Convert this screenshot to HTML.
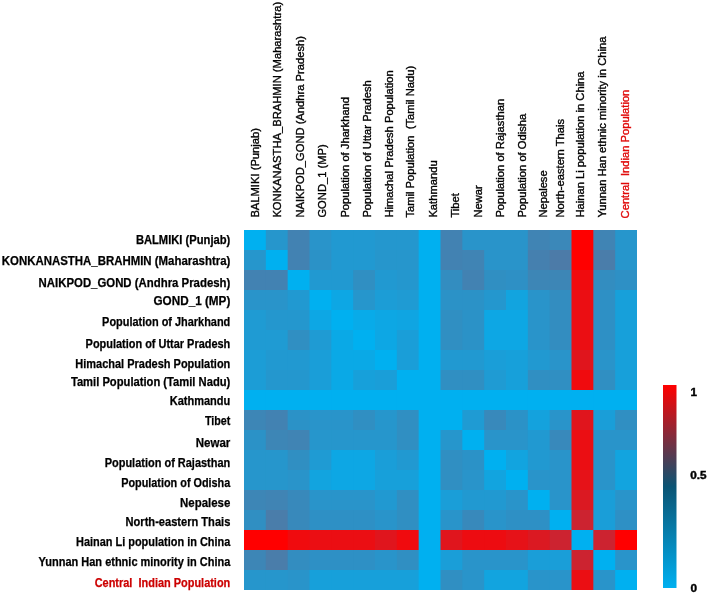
<!DOCTYPE html>
<html><head><meta charset="utf-8"><style>
html,body{margin:0;padding:0;background:#fff;}
body{width:708px;height:593px;overflow:hidden;position:relative;}
svg{position:absolute;left:0;top:0;filter:blur(0.3px);}
.rl{font-family:"Liberation Sans",sans-serif;font-weight:bold;font-size:12px;stroke-width:0.25px;}
.cl{font-family:"Liberation Sans",sans-serif;font-size:11.2px;stroke-width:0.35px;}
.cb{font-family:"Liberation Sans",sans-serif;font-weight:bold;font-size:10.2px;fill:#000;stroke:#000;stroke-width:0.4px;}
</style></head><body>
<svg width="708" height="593" viewBox="0 0 708 593">
<defs><linearGradient id="g" x1="0" y1="0" x2="0" y2="1">
<stop offset="0" stop-color="#FF0000"/><stop offset="0.5" stop-color="#0B5474"/><stop offset="1" stop-color="#00B0F0"/>
</linearGradient></defs>
<rect x="244.00" y="230.00" width="22.83" height="21.00" fill="rgb(0,176,240)"/><rect x="265.83" y="230.00" width="22.83" height="21.00" fill="rgb(38,150,204)"/><rect x="287.67" y="230.00" width="22.83" height="21.00" fill="rgb(66,130,178)"/><rect x="309.50" y="230.00" width="22.83" height="21.00" fill="rgb(41,148,202)"/><rect x="331.33" y="230.00" width="22.83" height="21.00" fill="rgb(33,153,209)"/><rect x="353.17" y="230.00" width="22.83" height="21.00" fill="rgb(33,153,209)"/><rect x="375.00" y="230.00" width="22.83" height="21.00" fill="rgb(36,151,206)"/><rect x="396.83" y="230.00" width="22.83" height="21.00" fill="rgb(36,151,206)"/><rect x="418.67" y="230.00" width="22.83" height="21.00" fill="rgb(0,176,240)"/><rect x="440.50" y="230.00" width="22.83" height="21.00" fill="rgb(66,130,178)"/><rect x="462.33" y="230.00" width="22.83" height="21.00" fill="rgb(41,148,202)"/><rect x="484.17" y="230.00" width="22.83" height="21.00" fill="rgb(41,148,202)"/><rect x="506.00" y="230.00" width="22.83" height="21.00" fill="rgb(41,148,202)"/><rect x="527.83" y="230.00" width="22.83" height="21.00" fill="rgb(64,132,180)"/><rect x="549.67" y="230.00" width="22.83" height="21.00" fill="rgb(59,136,185)"/><rect x="571.50" y="230.00" width="22.83" height="21.00" fill="rgb(255,0,0)"/><rect x="593.33" y="230.00" width="22.83" height="21.00" fill="rgb(64,132,180)"/><rect x="615.17" y="230.00" width="21.83" height="21.00" fill="rgb(38,150,204)"/><rect x="244.00" y="250.00" width="22.83" height="21.00" fill="rgb(38,150,204)"/><rect x="265.83" y="250.00" width="22.83" height="21.00" fill="rgb(0,176,240)"/><rect x="287.67" y="250.00" width="22.83" height="21.00" fill="rgb(66,130,178)"/><rect x="309.50" y="250.00" width="22.83" height="21.00" fill="rgb(43,146,199)"/><rect x="331.33" y="250.00" width="22.83" height="21.00" fill="rgb(33,153,209)"/><rect x="353.17" y="250.00" width="22.83" height="21.00" fill="rgb(33,153,209)"/><rect x="375.00" y="250.00" width="22.83" height="21.00" fill="rgb(38,150,204)"/><rect x="396.83" y="250.00" width="22.83" height="21.00" fill="rgb(38,150,204)"/><rect x="418.67" y="250.00" width="22.83" height="21.00" fill="rgb(0,176,240)"/><rect x="440.50" y="250.00" width="22.83" height="21.00" fill="rgb(66,130,178)"/><rect x="462.33" y="250.00" width="22.83" height="21.00" fill="rgb(64,132,180)"/><rect x="484.17" y="250.00" width="22.83" height="21.00" fill="rgb(41,148,202)"/><rect x="506.00" y="250.00" width="22.83" height="21.00" fill="rgb(41,148,202)"/><rect x="527.83" y="250.00" width="22.83" height="21.00" fill="rgb(69,128,175)"/><rect x="549.67" y="250.00" width="22.83" height="21.00" fill="rgb(76,123,168)"/><rect x="571.50" y="250.00" width="22.83" height="21.00" fill="rgb(255,0,0)"/><rect x="593.33" y="250.00" width="22.83" height="21.00" fill="rgb(74,125,170)"/><rect x="615.17" y="250.00" width="21.83" height="21.00" fill="rgb(38,150,204)"/><rect x="244.00" y="270.00" width="22.83" height="21.00" fill="rgb(66,130,178)"/><rect x="265.83" y="270.00" width="22.83" height="21.00" fill="rgb(66,130,178)"/><rect x="287.67" y="270.00" width="22.83" height="21.00" fill="rgb(0,176,240)"/><rect x="309.50" y="270.00" width="22.83" height="21.00" fill="rgb(33,153,209)"/><rect x="331.33" y="270.00" width="22.83" height="21.00" fill="rgb(33,153,209)"/><rect x="353.17" y="270.00" width="22.83" height="21.00" fill="rgb(48,143,194)"/><rect x="375.00" y="270.00" width="22.83" height="21.00" fill="rgb(33,153,209)"/><rect x="396.83" y="270.00" width="22.83" height="21.00" fill="rgb(36,151,206)"/><rect x="418.67" y="270.00" width="22.83" height="21.00" fill="rgb(0,176,240)"/><rect x="440.50" y="270.00" width="22.83" height="21.00" fill="rgb(51,141,192)"/><rect x="462.33" y="270.00" width="22.83" height="21.00" fill="rgb(66,130,178)"/><rect x="484.17" y="270.00" width="22.83" height="21.00" fill="rgb(48,143,194)"/><rect x="506.00" y="270.00" width="22.83" height="21.00" fill="rgb(46,144,197)"/><rect x="527.83" y="270.00" width="22.83" height="21.00" fill="rgb(61,134,182)"/><rect x="549.67" y="270.00" width="22.83" height="21.00" fill="rgb(61,134,182)"/><rect x="571.50" y="270.00" width="22.83" height="21.00" fill="rgb(240,11,14)"/><rect x="593.33" y="270.00" width="22.83" height="21.00" fill="rgb(51,141,192)"/><rect x="615.17" y="270.00" width="21.83" height="21.00" fill="rgb(46,144,197)"/><rect x="244.00" y="290.00" width="22.83" height="21.00" fill="rgb(41,148,202)"/><rect x="265.83" y="290.00" width="22.83" height="21.00" fill="rgb(41,148,202)"/><rect x="287.67" y="290.00" width="22.83" height="21.00" fill="rgb(33,153,209)"/><rect x="309.50" y="290.00" width="22.83" height="21.00" fill="rgb(0,176,240)"/><rect x="331.33" y="290.00" width="22.83" height="21.00" fill="rgb(13,167,228)"/><rect x="353.17" y="290.00" width="22.83" height="21.00" fill="rgb(38,150,204)"/><rect x="375.00" y="290.00" width="22.83" height="21.00" fill="rgb(28,157,214)"/><rect x="396.83" y="290.00" width="22.83" height="21.00" fill="rgb(31,155,211)"/><rect x="418.67" y="290.00" width="22.83" height="21.00" fill="rgb(0,176,240)"/><rect x="440.50" y="290.00" width="22.83" height="21.00" fill="rgb(43,146,199)"/><rect x="462.33" y="290.00" width="22.83" height="21.00" fill="rgb(43,146,199)"/><rect x="484.17" y="290.00" width="22.83" height="21.00" fill="rgb(36,151,206)"/><rect x="506.00" y="290.00" width="22.83" height="21.00" fill="rgb(18,164,223)"/><rect x="527.83" y="290.00" width="22.83" height="21.00" fill="rgb(41,148,202)"/><rect x="549.67" y="290.00" width="22.83" height="21.00" fill="rgb(51,141,192)"/><rect x="571.50" y="290.00" width="22.83" height="21.00" fill="rgb(235,14,19)"/><rect x="593.33" y="290.00" width="22.83" height="21.00" fill="rgb(46,144,197)"/><rect x="615.17" y="290.00" width="21.83" height="21.00" fill="rgb(23,160,218)"/><rect x="244.00" y="310.00" width="22.83" height="21.00" fill="rgb(31,155,211)"/><rect x="265.83" y="310.00" width="22.83" height="21.00" fill="rgb(36,151,206)"/><rect x="287.67" y="310.00" width="22.83" height="21.00" fill="rgb(36,151,206)"/><rect x="309.50" y="310.00" width="22.83" height="21.00" fill="rgb(13,167,228)"/><rect x="331.33" y="310.00" width="22.83" height="21.00" fill="rgb(0,176,240)"/><rect x="353.17" y="310.00" width="22.83" height="21.00" fill="rgb(8,171,233)"/><rect x="375.00" y="310.00" width="22.83" height="21.00" fill="rgb(13,167,228)"/><rect x="396.83" y="310.00" width="22.83" height="21.00" fill="rgb(15,165,226)"/><rect x="418.67" y="310.00" width="22.83" height="21.00" fill="rgb(0,176,240)"/><rect x="440.50" y="310.00" width="22.83" height="21.00" fill="rgb(48,143,194)"/><rect x="462.33" y="310.00" width="22.83" height="21.00" fill="rgb(43,146,199)"/><rect x="484.17" y="310.00" width="22.83" height="21.00" fill="rgb(13,167,228)"/><rect x="506.00" y="310.00" width="22.83" height="21.00" fill="rgb(13,167,228)"/><rect x="527.83" y="310.00" width="22.83" height="21.00" fill="rgb(41,148,202)"/><rect x="549.67" y="310.00" width="22.83" height="21.00" fill="rgb(51,141,192)"/><rect x="571.50" y="310.00" width="22.83" height="21.00" fill="rgb(235,14,19)"/><rect x="593.33" y="310.00" width="22.83" height="21.00" fill="rgb(46,144,197)"/><rect x="615.17" y="310.00" width="21.83" height="21.00" fill="rgb(23,160,218)"/><rect x="244.00" y="330.00" width="22.83" height="21.00" fill="rgb(31,155,211)"/><rect x="265.83" y="330.00" width="22.83" height="21.00" fill="rgb(31,155,211)"/><rect x="287.67" y="330.00" width="22.83" height="21.00" fill="rgb(48,143,194)"/><rect x="309.50" y="330.00" width="22.83" height="21.00" fill="rgb(31,155,211)"/><rect x="331.33" y="330.00" width="22.83" height="21.00" fill="rgb(10,169,230)"/><rect x="353.17" y="330.00" width="22.83" height="21.00" fill="rgb(0,176,240)"/><rect x="375.00" y="330.00" width="22.83" height="21.00" fill="rgb(13,167,228)"/><rect x="396.83" y="330.00" width="22.83" height="21.00" fill="rgb(26,158,216)"/><rect x="418.67" y="330.00" width="22.83" height="21.00" fill="rgb(0,176,240)"/><rect x="440.50" y="330.00" width="22.83" height="21.00" fill="rgb(48,143,194)"/><rect x="462.33" y="330.00" width="22.83" height="21.00" fill="rgb(43,146,199)"/><rect x="484.17" y="330.00" width="22.83" height="21.00" fill="rgb(13,167,228)"/><rect x="506.00" y="330.00" width="22.83" height="21.00" fill="rgb(13,167,228)"/><rect x="527.83" y="330.00" width="22.83" height="21.00" fill="rgb(41,148,202)"/><rect x="549.67" y="330.00" width="22.83" height="21.00" fill="rgb(51,141,192)"/><rect x="571.50" y="330.00" width="22.83" height="21.00" fill="rgb(235,14,19)"/><rect x="593.33" y="330.00" width="22.83" height="21.00" fill="rgb(46,144,197)"/><rect x="615.17" y="330.00" width="21.83" height="21.00" fill="rgb(23,160,218)"/><rect x="244.00" y="350.00" width="22.83" height="21.00" fill="rgb(28,157,214)"/><rect x="265.83" y="350.00" width="22.83" height="21.00" fill="rgb(33,153,209)"/><rect x="287.67" y="350.00" width="22.83" height="21.00" fill="rgb(33,153,209)"/><rect x="309.50" y="350.00" width="22.83" height="21.00" fill="rgb(26,158,216)"/><rect x="331.33" y="350.00" width="22.83" height="21.00" fill="rgb(10,169,230)"/><rect x="353.17" y="350.00" width="22.83" height="21.00" fill="rgb(10,169,230)"/><rect x="375.00" y="350.00" width="22.83" height="21.00" fill="rgb(0,176,240)"/><rect x="396.83" y="350.00" width="22.83" height="21.00" fill="rgb(26,158,216)"/><rect x="418.67" y="350.00" width="22.83" height="21.00" fill="rgb(0,176,240)"/><rect x="440.50" y="350.00" width="22.83" height="21.00" fill="rgb(33,153,209)"/><rect x="462.33" y="350.00" width="22.83" height="21.00" fill="rgb(33,153,209)"/><rect x="484.17" y="350.00" width="22.83" height="21.00" fill="rgb(26,158,216)"/><rect x="506.00" y="350.00" width="22.83" height="21.00" fill="rgb(23,160,218)"/><rect x="527.83" y="350.00" width="22.83" height="21.00" fill="rgb(33,153,209)"/><rect x="549.67" y="350.00" width="22.83" height="21.00" fill="rgb(41,148,202)"/><rect x="571.50" y="350.00" width="22.83" height="21.00" fill="rgb(224,21,29)"/><rect x="593.33" y="350.00" width="22.83" height="21.00" fill="rgb(41,148,202)"/><rect x="615.17" y="350.00" width="21.83" height="21.00" fill="rgb(23,160,218)"/><rect x="244.00" y="370.00" width="22.83" height="21.00" fill="rgb(28,157,214)"/><rect x="265.83" y="370.00" width="22.83" height="21.00" fill="rgb(36,151,206)"/><rect x="287.67" y="370.00" width="22.83" height="21.00" fill="rgb(36,151,206)"/><rect x="309.50" y="370.00" width="22.83" height="21.00" fill="rgb(26,158,216)"/><rect x="331.33" y="370.00" width="22.83" height="21.00" fill="rgb(10,169,230)"/><rect x="353.17" y="370.00" width="22.83" height="21.00" fill="rgb(23,160,218)"/><rect x="375.00" y="370.00" width="22.83" height="21.00" fill="rgb(26,158,216)"/><rect x="396.83" y="370.00" width="22.83" height="21.00" fill="rgb(0,176,240)"/><rect x="418.67" y="370.00" width="22.83" height="21.00" fill="rgb(0,176,240)"/><rect x="440.50" y="370.00" width="22.83" height="21.00" fill="rgb(48,143,194)"/><rect x="462.33" y="370.00" width="22.83" height="21.00" fill="rgb(48,143,194)"/><rect x="484.17" y="370.00" width="22.83" height="21.00" fill="rgb(31,155,211)"/><rect x="506.00" y="370.00" width="22.83" height="21.00" fill="rgb(23,160,218)"/><rect x="527.83" y="370.00" width="22.83" height="21.00" fill="rgb(48,143,194)"/><rect x="549.67" y="370.00" width="22.83" height="21.00" fill="rgb(48,143,194)"/><rect x="571.50" y="370.00" width="22.83" height="21.00" fill="rgb(240,11,14)"/><rect x="593.33" y="370.00" width="22.83" height="21.00" fill="rgb(48,143,194)"/><rect x="615.17" y="370.00" width="21.83" height="21.00" fill="rgb(23,160,218)"/><rect x="244.00" y="390.00" width="22.83" height="21.00" fill="rgb(0,176,240)"/><rect x="265.83" y="390.00" width="22.83" height="21.00" fill="rgb(0,176,240)"/><rect x="287.67" y="390.00" width="22.83" height="21.00" fill="rgb(0,176,240)"/><rect x="309.50" y="390.00" width="22.83" height="21.00" fill="rgb(0,176,240)"/><rect x="331.33" y="390.00" width="22.83" height="21.00" fill="rgb(0,176,240)"/><rect x="353.17" y="390.00" width="22.83" height="21.00" fill="rgb(0,176,240)"/><rect x="375.00" y="390.00" width="22.83" height="21.00" fill="rgb(0,176,240)"/><rect x="396.83" y="390.00" width="22.83" height="21.00" fill="rgb(0,176,240)"/><rect x="418.67" y="390.00" width="22.83" height="21.00" fill="rgb(0,176,240)"/><rect x="440.50" y="390.00" width="22.83" height="21.00" fill="rgb(0,176,240)"/><rect x="462.33" y="390.00" width="22.83" height="21.00" fill="rgb(0,176,240)"/><rect x="484.17" y="390.00" width="22.83" height="21.00" fill="rgb(0,176,240)"/><rect x="506.00" y="390.00" width="22.83" height="21.00" fill="rgb(0,176,240)"/><rect x="527.83" y="390.00" width="22.83" height="21.00" fill="rgb(0,176,240)"/><rect x="549.67" y="390.00" width="22.83" height="21.00" fill="rgb(0,176,240)"/><rect x="571.50" y="390.00" width="22.83" height="21.00" fill="rgb(0,176,240)"/><rect x="593.33" y="390.00" width="22.83" height="21.00" fill="rgb(0,176,240)"/><rect x="615.17" y="390.00" width="21.83" height="21.00" fill="rgb(0,176,240)"/><rect x="244.00" y="410.00" width="22.83" height="21.00" fill="rgb(61,134,182)"/><rect x="265.83" y="410.00" width="22.83" height="21.00" fill="rgb(66,130,178)"/><rect x="287.67" y="410.00" width="22.83" height="21.00" fill="rgb(43,146,199)"/><rect x="309.50" y="410.00" width="22.83" height="21.00" fill="rgb(41,148,202)"/><rect x="331.33" y="410.00" width="22.83" height="21.00" fill="rgb(41,148,202)"/><rect x="353.17" y="410.00" width="22.83" height="21.00" fill="rgb(48,143,194)"/><rect x="375.00" y="410.00" width="22.83" height="21.00" fill="rgb(38,150,204)"/><rect x="396.83" y="410.00" width="22.83" height="21.00" fill="rgb(48,143,194)"/><rect x="418.67" y="410.00" width="22.83" height="21.00" fill="rgb(0,176,240)"/><rect x="440.50" y="410.00" width="22.83" height="21.00" fill="rgb(0,176,240)"/><rect x="462.33" y="410.00" width="22.83" height="21.00" fill="rgb(31,155,211)"/><rect x="484.17" y="410.00" width="22.83" height="21.00" fill="rgb(56,137,187)"/><rect x="506.00" y="410.00" width="22.83" height="21.00" fill="rgb(43,146,199)"/><rect x="527.83" y="410.00" width="22.83" height="21.00" fill="rgb(20,162,221)"/><rect x="549.67" y="410.00" width="22.83" height="21.00" fill="rgb(41,148,202)"/><rect x="571.50" y="410.00" width="22.83" height="21.00" fill="rgb(224,21,29)"/><rect x="593.33" y="410.00" width="22.83" height="21.00" fill="rgb(26,158,216)"/><rect x="615.17" y="410.00" width="21.83" height="21.00" fill="rgb(48,143,194)"/><rect x="244.00" y="430.00" width="22.83" height="21.00" fill="rgb(43,146,199)"/><rect x="265.83" y="430.00" width="22.83" height="21.00" fill="rgb(61,134,182)"/><rect x="287.67" y="430.00" width="22.83" height="21.00" fill="rgb(64,132,180)"/><rect x="309.50" y="430.00" width="22.83" height="21.00" fill="rgb(38,150,204)"/><rect x="331.33" y="430.00" width="22.83" height="21.00" fill="rgb(38,150,204)"/><rect x="353.17" y="430.00" width="22.83" height="21.00" fill="rgb(38,150,204)"/><rect x="375.00" y="430.00" width="22.83" height="21.00" fill="rgb(38,150,204)"/><rect x="396.83" y="430.00" width="22.83" height="21.00" fill="rgb(48,143,194)"/><rect x="418.67" y="430.00" width="22.83" height="21.00" fill="rgb(0,176,240)"/><rect x="440.50" y="430.00" width="22.83" height="21.00" fill="rgb(38,150,204)"/><rect x="462.33" y="430.00" width="22.83" height="21.00" fill="rgb(0,176,240)"/><rect x="484.17" y="430.00" width="22.83" height="21.00" fill="rgb(41,148,202)"/><rect x="506.00" y="430.00" width="22.83" height="21.00" fill="rgb(41,148,202)"/><rect x="527.83" y="430.00" width="22.83" height="21.00" fill="rgb(33,153,209)"/><rect x="549.67" y="430.00" width="22.83" height="21.00" fill="rgb(56,137,187)"/><rect x="571.50" y="430.00" width="22.83" height="21.00" fill="rgb(235,14,19)"/><rect x="593.33" y="430.00" width="22.83" height="21.00" fill="rgb(41,148,202)"/><rect x="615.17" y="430.00" width="21.83" height="21.00" fill="rgb(41,148,202)"/><rect x="244.00" y="450.00" width="22.83" height="21.00" fill="rgb(38,150,204)"/><rect x="265.83" y="450.00" width="22.83" height="21.00" fill="rgb(38,150,204)"/><rect x="287.67" y="450.00" width="22.83" height="21.00" fill="rgb(48,143,194)"/><rect x="309.50" y="450.00" width="22.83" height="21.00" fill="rgb(31,155,211)"/><rect x="331.33" y="450.00" width="22.83" height="21.00" fill="rgb(13,167,228)"/><rect x="353.17" y="450.00" width="22.83" height="21.00" fill="rgb(13,167,228)"/><rect x="375.00" y="450.00" width="22.83" height="21.00" fill="rgb(26,158,216)"/><rect x="396.83" y="450.00" width="22.83" height="21.00" fill="rgb(33,153,209)"/><rect x="418.67" y="450.00" width="22.83" height="21.00" fill="rgb(0,176,240)"/><rect x="440.50" y="450.00" width="22.83" height="21.00" fill="rgb(48,143,194)"/><rect x="462.33" y="450.00" width="22.83" height="21.00" fill="rgb(43,146,199)"/><rect x="484.17" y="450.00" width="22.83" height="21.00" fill="rgb(0,176,240)"/><rect x="506.00" y="450.00" width="22.83" height="21.00" fill="rgb(18,164,223)"/><rect x="527.83" y="450.00" width="22.83" height="21.00" fill="rgb(33,153,209)"/><rect x="549.67" y="450.00" width="22.83" height="21.00" fill="rgb(41,148,202)"/><rect x="571.50" y="450.00" width="22.83" height="21.00" fill="rgb(235,14,19)"/><rect x="593.33" y="450.00" width="22.83" height="21.00" fill="rgb(41,148,202)"/><rect x="615.17" y="450.00" width="21.83" height="21.00" fill="rgb(18,164,223)"/><rect x="244.00" y="470.00" width="22.83" height="21.00" fill="rgb(38,150,204)"/><rect x="265.83" y="470.00" width="22.83" height="21.00" fill="rgb(38,150,204)"/><rect x="287.67" y="470.00" width="22.83" height="21.00" fill="rgb(41,148,202)"/><rect x="309.50" y="470.00" width="22.83" height="21.00" fill="rgb(18,164,223)"/><rect x="331.33" y="470.00" width="22.83" height="21.00" fill="rgb(13,167,228)"/><rect x="353.17" y="470.00" width="22.83" height="21.00" fill="rgb(13,167,228)"/><rect x="375.00" y="470.00" width="22.83" height="21.00" fill="rgb(23,160,218)"/><rect x="396.83" y="470.00" width="22.83" height="21.00" fill="rgb(23,160,218)"/><rect x="418.67" y="470.00" width="22.83" height="21.00" fill="rgb(0,176,240)"/><rect x="440.50" y="470.00" width="22.83" height="21.00" fill="rgb(48,143,194)"/><rect x="462.33" y="470.00" width="22.83" height="21.00" fill="rgb(41,148,202)"/><rect x="484.17" y="470.00" width="22.83" height="21.00" fill="rgb(18,164,223)"/><rect x="506.00" y="470.00" width="22.83" height="21.00" fill="rgb(0,176,240)"/><rect x="527.83" y="470.00" width="22.83" height="21.00" fill="rgb(41,148,202)"/><rect x="549.67" y="470.00" width="22.83" height="21.00" fill="rgb(41,148,202)"/><rect x="571.50" y="470.00" width="22.83" height="21.00" fill="rgb(230,18,24)"/><rect x="593.33" y="470.00" width="22.83" height="21.00" fill="rgb(41,148,202)"/><rect x="615.17" y="470.00" width="21.83" height="21.00" fill="rgb(18,164,223)"/><rect x="244.00" y="490.00" width="22.83" height="21.00" fill="rgb(61,134,182)"/><rect x="265.83" y="490.00" width="22.83" height="21.00" fill="rgb(64,132,180)"/><rect x="287.67" y="490.00" width="22.83" height="21.00" fill="rgb(56,137,187)"/><rect x="309.50" y="490.00" width="22.83" height="21.00" fill="rgb(41,148,202)"/><rect x="331.33" y="490.00" width="22.83" height="21.00" fill="rgb(41,148,202)"/><rect x="353.17" y="490.00" width="22.83" height="21.00" fill="rgb(41,148,202)"/><rect x="375.00" y="490.00" width="22.83" height="21.00" fill="rgb(33,153,209)"/><rect x="396.83" y="490.00" width="22.83" height="21.00" fill="rgb(48,143,194)"/><rect x="418.67" y="490.00" width="22.83" height="21.00" fill="rgb(0,176,240)"/><rect x="440.50" y="490.00" width="22.83" height="21.00" fill="rgb(26,158,216)"/><rect x="462.33" y="490.00" width="22.83" height="21.00" fill="rgb(33,153,209)"/><rect x="484.17" y="490.00" width="22.83" height="21.00" fill="rgb(33,153,209)"/><rect x="506.00" y="490.00" width="22.83" height="21.00" fill="rgb(41,148,202)"/><rect x="527.83" y="490.00" width="22.83" height="21.00" fill="rgb(0,176,240)"/><rect x="549.67" y="490.00" width="22.83" height="21.00" fill="rgb(41,148,202)"/><rect x="571.50" y="490.00" width="22.83" height="21.00" fill="rgb(219,25,34)"/><rect x="593.33" y="490.00" width="22.83" height="21.00" fill="rgb(26,158,216)"/><rect x="615.17" y="490.00" width="21.83" height="21.00" fill="rgb(41,148,202)"/><rect x="244.00" y="510.00" width="22.83" height="21.00" fill="rgb(48,143,194)"/><rect x="265.83" y="510.00" width="22.83" height="21.00" fill="rgb(74,125,170)"/><rect x="287.67" y="510.00" width="22.83" height="21.00" fill="rgb(56,137,187)"/><rect x="309.50" y="510.00" width="22.83" height="21.00" fill="rgb(46,144,197)"/><rect x="331.33" y="510.00" width="22.83" height="21.00" fill="rgb(46,144,197)"/><rect x="353.17" y="510.00" width="22.83" height="21.00" fill="rgb(46,144,197)"/><rect x="375.00" y="510.00" width="22.83" height="21.00" fill="rgb(41,148,202)"/><rect x="396.83" y="510.00" width="22.83" height="21.00" fill="rgb(48,143,194)"/><rect x="418.67" y="510.00" width="22.83" height="21.00" fill="rgb(0,176,240)"/><rect x="440.50" y="510.00" width="22.83" height="21.00" fill="rgb(41,148,202)"/><rect x="462.33" y="510.00" width="22.83" height="21.00" fill="rgb(56,137,187)"/><rect x="484.17" y="510.00" width="22.83" height="21.00" fill="rgb(41,148,202)"/><rect x="506.00" y="510.00" width="22.83" height="21.00" fill="rgb(46,144,197)"/><rect x="527.83" y="510.00" width="22.83" height="21.00" fill="rgb(46,144,197)"/><rect x="549.67" y="510.00" width="22.83" height="21.00" fill="rgb(0,176,240)"/><rect x="571.50" y="510.00" width="22.83" height="21.00" fill="rgb(204,35,48)"/><rect x="593.33" y="510.00" width="22.83" height="21.00" fill="rgb(26,158,216)"/><rect x="615.17" y="510.00" width="21.83" height="21.00" fill="rgb(46,144,197)"/><rect x="244.00" y="530.00" width="22.83" height="21.00" fill="rgb(255,0,0)"/><rect x="265.83" y="530.00" width="22.83" height="21.00" fill="rgb(255,0,0)"/><rect x="287.67" y="530.00" width="22.83" height="21.00" fill="rgb(240,11,14)"/><rect x="309.50" y="530.00" width="22.83" height="21.00" fill="rgb(235,14,19)"/><rect x="331.33" y="530.00" width="22.83" height="21.00" fill="rgb(235,14,19)"/><rect x="353.17" y="530.00" width="22.83" height="21.00" fill="rgb(235,14,19)"/><rect x="375.00" y="530.00" width="22.83" height="21.00" fill="rgb(224,21,29)"/><rect x="396.83" y="530.00" width="22.83" height="21.00" fill="rgb(240,11,14)"/><rect x="418.67" y="530.00" width="22.83" height="21.00" fill="rgb(0,176,240)"/><rect x="440.50" y="530.00" width="22.83" height="21.00" fill="rgb(224,21,29)"/><rect x="462.33" y="530.00" width="22.83" height="21.00" fill="rgb(237,12,17)"/><rect x="484.17" y="530.00" width="22.83" height="21.00" fill="rgb(237,12,17)"/><rect x="506.00" y="530.00" width="22.83" height="21.00" fill="rgb(230,18,24)"/><rect x="527.83" y="530.00" width="22.83" height="21.00" fill="rgb(219,25,34)"/><rect x="549.67" y="530.00" width="22.83" height="21.00" fill="rgb(204,35,48)"/><rect x="571.50" y="530.00" width="22.83" height="21.00" fill="rgb(0,176,240)"/><rect x="593.33" y="530.00" width="22.83" height="21.00" fill="rgb(204,35,48)"/><rect x="615.17" y="530.00" width="21.83" height="21.00" fill="rgb(255,0,0)"/><rect x="244.00" y="550.00" width="22.83" height="21.00" fill="rgb(61,134,182)"/><rect x="265.83" y="550.00" width="22.83" height="21.00" fill="rgb(74,125,170)"/><rect x="287.67" y="550.00" width="22.83" height="21.00" fill="rgb(51,141,192)"/><rect x="309.50" y="550.00" width="22.83" height="21.00" fill="rgb(46,144,197)"/><rect x="331.33" y="550.00" width="22.83" height="21.00" fill="rgb(46,144,197)"/><rect x="353.17" y="550.00" width="22.83" height="21.00" fill="rgb(46,144,197)"/><rect x="375.00" y="550.00" width="22.83" height="21.00" fill="rgb(41,148,202)"/><rect x="396.83" y="550.00" width="22.83" height="21.00" fill="rgb(48,143,194)"/><rect x="418.67" y="550.00" width="22.83" height="21.00" fill="rgb(0,176,240)"/><rect x="440.50" y="550.00" width="22.83" height="21.00" fill="rgb(26,158,216)"/><rect x="462.33" y="550.00" width="22.83" height="21.00" fill="rgb(41,148,202)"/><rect x="484.17" y="550.00" width="22.83" height="21.00" fill="rgb(41,148,202)"/><rect x="506.00" y="550.00" width="22.83" height="21.00" fill="rgb(41,148,202)"/><rect x="527.83" y="550.00" width="22.83" height="21.00" fill="rgb(26,158,216)"/><rect x="549.67" y="550.00" width="22.83" height="21.00" fill="rgb(26,158,216)"/><rect x="571.50" y="550.00" width="22.83" height="21.00" fill="rgb(204,35,48)"/><rect x="593.33" y="550.00" width="22.83" height="21.00" fill="rgb(0,176,240)"/><rect x="615.17" y="550.00" width="21.83" height="21.00" fill="rgb(41,148,202)"/><rect x="244.00" y="570.00" width="22.83" height="20.00" fill="rgb(38,150,204)"/><rect x="265.83" y="570.00" width="22.83" height="20.00" fill="rgb(38,150,204)"/><rect x="287.67" y="570.00" width="22.83" height="20.00" fill="rgb(41,148,202)"/><rect x="309.50" y="570.00" width="22.83" height="20.00" fill="rgb(23,160,218)"/><rect x="331.33" y="570.00" width="22.83" height="20.00" fill="rgb(23,160,218)"/><rect x="353.17" y="570.00" width="22.83" height="20.00" fill="rgb(23,160,218)"/><rect x="375.00" y="570.00" width="22.83" height="20.00" fill="rgb(23,160,218)"/><rect x="396.83" y="570.00" width="22.83" height="20.00" fill="rgb(23,160,218)"/><rect x="418.67" y="570.00" width="22.83" height="20.00" fill="rgb(0,176,240)"/><rect x="440.50" y="570.00" width="22.83" height="20.00" fill="rgb(48,143,194)"/><rect x="462.33" y="570.00" width="22.83" height="20.00" fill="rgb(41,148,202)"/><rect x="484.17" y="570.00" width="22.83" height="20.00" fill="rgb(18,164,223)"/><rect x="506.00" y="570.00" width="22.83" height="20.00" fill="rgb(18,164,223)"/><rect x="527.83" y="570.00" width="22.83" height="20.00" fill="rgb(41,148,202)"/><rect x="549.67" y="570.00" width="22.83" height="20.00" fill="rgb(41,148,202)"/><rect x="571.50" y="570.00" width="22.83" height="20.00" fill="rgb(235,14,19)"/><rect x="593.33" y="570.00" width="22.83" height="20.00" fill="rgb(41,148,202)"/><rect x="615.17" y="570.00" width="21.83" height="20.00" fill="rgb(0,176,240)"/>
<rect x="663" y="385" width="13.5" height="203" fill="url(#g)"/>
<text class="rl" x="135.9" y="243.9" textLength="94.4" lengthAdjust="spacingAndGlyphs" fill="#000" stroke="#000">BALMIKI (Punjab)</text><text class="rl" x="1.8" y="264.6" textLength="228.5" lengthAdjust="spacingAndGlyphs" fill="#000" stroke="#000">KONKANASTHA_BRAHMIN (Maharashtra)</text><text class="rl" x="38.6" y="286.6" textLength="191.7" lengthAdjust="spacingAndGlyphs" fill="#000" stroke="#000">NAIKPOD_GOND (Andhra Pradesh)</text><text class="rl" x="153.5" y="304.9" textLength="76.8" lengthAdjust="spacingAndGlyphs" fill="#000" stroke="#000">GOND_1 (MP)</text><text class="rl" x="102.1" y="325.7" textLength="128.2" lengthAdjust="spacingAndGlyphs" fill="#000" stroke="#000">Population of Jharkhand</text><text class="rl" x="85.6" y="347.7" textLength="144.7" lengthAdjust="spacingAndGlyphs" fill="#000" stroke="#000">Population of Uttar Pradesh</text><text class="rl" x="75.3" y="367.6" textLength="155.0" lengthAdjust="spacingAndGlyphs" fill="#000" stroke="#000">Himachal Pradesh Population</text><text class="rl" x="70.9" y="385.5" textLength="159.4" lengthAdjust="spacingAndGlyphs" fill="#000" stroke="#000">Tamil Population (Tamil Nadu)</text><text class="rl" x="169.7" y="404.7" textLength="60.6" lengthAdjust="spacingAndGlyphs" fill="#000" stroke="#000">Kathmandu</text><text class="rl" x="204.9" y="425.2" textLength="25.4" lengthAdjust="spacingAndGlyphs" fill="#000" stroke="#000">Tibet</text><text class="rl" x="195.7" y="446.6" textLength="34.6" lengthAdjust="spacingAndGlyphs" fill="#000" stroke="#000">Newar</text><text class="rl" x="104.7" y="467.3" textLength="125.6" lengthAdjust="spacingAndGlyphs" fill="#000" stroke="#000">Population of Rajasthan</text><text class="rl" x="121.2" y="487.0" textLength="109.1" lengthAdjust="spacingAndGlyphs" fill="#000" stroke="#000">Population of Odisha</text><text class="rl" x="180.0" y="507.4" textLength="50.3" lengthAdjust="spacingAndGlyphs" fill="#000" stroke="#000">Nepalese</text><text class="rl" x="125.6" y="526.4" textLength="104.7" lengthAdjust="spacingAndGlyphs" fill="#000" stroke="#000">North-eastern Thais</text><text class="rl" x="76.0" y="545.7" textLength="154.3" lengthAdjust="spacingAndGlyphs" fill="#000" stroke="#000">Hainan Li population in China</text><text class="rl" x="38.6" y="565.5" textLength="191.7" lengthAdjust="spacingAndGlyphs" fill="#000" stroke="#000">Yunnan Han ethnic minority in China</text><text class="rl" x="94.7" y="587.2" textLength="135.6" lengthAdjust="spacingAndGlyphs" fill="#CC0000" stroke="#CC0000">Central  Indian Population</text><text class="cl" transform="translate(258.8,217.6) rotate(-90)" fill="#000" stroke="#000">BALMIKI (Punjab)</text><text class="cl" transform="translate(281.0,217.6) rotate(-90)" fill="#000" stroke="#000">KONKANASTHA_BRAHMIN (Maharashtra)</text><text class="cl" transform="translate(304.0,217.6) rotate(-90)" fill="#000" stroke="#000">NAIKPOD_GOND (Andhra Pradesh)</text><text class="cl" transform="translate(325.9,217.6) rotate(-90)" fill="#000" stroke="#000">GOND_1 (MP)</text><text class="cl" transform="translate(348.8,217.6) rotate(-90)" fill="#000" stroke="#000">Population of Jharkhand</text><text class="cl" transform="translate(370.5,217.6) rotate(-90)" fill="#000" stroke="#000">Population of Uttar Pradesh</text><text class="cl" transform="translate(393.0,217.6) rotate(-90)" fill="#000" stroke="#000">Himachal Pradesh Population</text><text class="cl" transform="translate(414.0,217.6) rotate(-90)" fill="#000" stroke="#000">Tamil Population  (Tamil Nadu)</text><text class="cl" transform="translate(436.9,217.6) rotate(-90)" fill="#000" stroke="#000">Kathmandu</text><text class="cl" transform="translate(459.1,217.6) rotate(-90)" fill="#000" stroke="#000">Tibet</text><text class="cl" transform="translate(481.7,217.6) rotate(-90)" fill="#000" stroke="#000">Newar</text><text class="cl" transform="translate(503.6,217.6) rotate(-90)" fill="#000" stroke="#000">Population of Rajasthan</text><text class="cl" transform="translate(525.9,217.6) rotate(-90)" fill="#000" stroke="#000">Population of Odisha</text><text class="cl" transform="translate(547.4,217.6) rotate(-90)" fill="#000" stroke="#000">Nepalese</text><text class="cl" transform="translate(564.2,217.6) rotate(-90)" fill="#000" stroke="#000">North-eastern Thais</text><text class="cl" transform="translate(583.6,217.6) rotate(-90)" fill="#000" stroke="#000">Hainan Li population in China</text><text class="cl" transform="translate(606.1,217.6) rotate(-90)" fill="#000" stroke="#000">Yunnan Han ethnic minority in China</text><text class="cl" transform="translate(628.8,218.4) rotate(-90)" fill="#E00808" stroke="#E00808">Central  Indian Population</text>
<text class="cb" transform="translate(690.4,396.2) scale(1.15,1)">1</text>
<text class="cb" transform="translate(690.2,478.8) scale(1.15,1)">0.5</text>
<text class="cb" transform="translate(690.6,592) scale(1.15,1)">0</text>
</svg>
</body></html>
